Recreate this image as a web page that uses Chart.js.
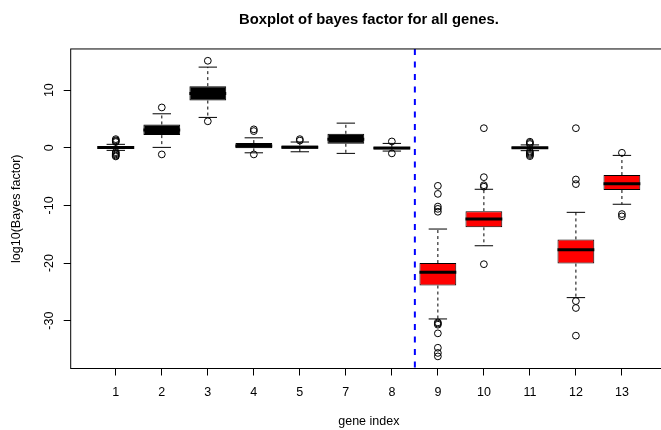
<!DOCTYPE html>
<html>
<head>
<meta charset="utf-8">
<script src="https://cdn.jsdelivr.net/npm/chart.js@4.4.1/dist/chart.umd.min.js"></script>
<style>
  html, body { margin: 0; padding: 0; background: #fff; overflow: hidden; }
  #wrap { width: 700px; height: 430px; }
</style>
</head>
<body>
<div id="wrap"><canvas id="grafico" width="700" height="430"></canvas></div>
<script>
// gene index (gene 6 is not in the data)
const geneLabels = ['1', '2', '3', '4', '5', '7', '8', '9', '10', '11', '12', '13'];
const redGenes = ['9', '10', '12', '13'];

// five-number summaries, log10(Bayes factor)
const lowerWhisker = [-0.45, 0.07, 5.27, -0.87, -0.69, -0.97, -0.57, -29.7, -17.0, -0.5, -26.0, -9.8];
const q1 = [-0.2, 2.2, 8.2, -0.1, -0.17, 0.7, -0.3, -23.9, -13.8, -0.17, -20.1, -7.33];
const medians = [0.05, 3.1, 9.4, 0.3, 0.1, 1.5, -0.05, -21.6, -12.36, 0.0, -17.7, -6.24];
const q3 = [0.3, 4.05, 10.7, 0.81, 0.41, 2.43, 0.15, -20.0, -11.0, 0.17, -15.9, -4.73];
const upperWhisker = [0.6, 5.9, 14.0, 1.73, 1.0, 4.28, 0.76, -14.1, -7.2, 0.5, -11.2, -1.32];

const outliers = [
  [1.5, 1.3, 1.15, 1.0, -0.75, -0.95, -1.15, -1.35, -1.5],
  [7.0, -1.15],
  [15.1, 4.6],
  [3.2, 2.9, -1.15],
  [1.5, 1.25],
  [],
  [1.1, -0.97],
  [-6.6, -8.0, -10.2, -10.6, -11.1, -30.3, -30.5, -30.7, -32.2, -34.7, -35.6, -36.2],
  [3.4, -5.1, -6.5, -6.75, -20.2],
  [1.05, 0.85, 0.65, -0.65, -0.85, -1.05, -1.25, -1.45],
  [3.4, -5.5, -6.3, -26.6, -27.8, -32.6],
  [-0.87, -11.5, -11.9]
];

const yTicks = [-30, -20, -10, 0, 10];
const divisoria = 7.5; // between gene 8 and gene 9

const posicoes = geneLabels.map((g, i) => i + 1);

const boxExtras = {
  id: 'boxExtras',
  beforeDatasetsDraw(chart) {
    const { ctx, scales: { x, y } } = chart;
    ctx.save();
    ctx.strokeStyle = '#000';
    ctx.lineWidth = 1;
    posicoes.forEach((p, i) => {
      const px = x.getPixelForValue(p);
      const c0 = x.getPixelForValue(p - 0.2);
      const c1 = x.getPixelForValue(p + 0.2);
      // whiskers (dashed)
      ctx.setLineDash([3, 3]);
      ctx.beginPath();
      ctx.moveTo(px, y.getPixelForValue(q3[i]));
      ctx.lineTo(px, y.getPixelForValue(upperWhisker[i]));
      ctx.moveTo(px, y.getPixelForValue(q1[i]));
      ctx.lineTo(px, y.getPixelForValue(lowerWhisker[i]));
      ctx.stroke();
      // caps
      ctx.setLineDash([]);
      ctx.beginPath();
      ctx.moveTo(c0, y.getPixelForValue(upperWhisker[i]));
      ctx.lineTo(c1, y.getPixelForValue(upperWhisker[i]));
      ctx.moveTo(c0, y.getPixelForValue(lowerWhisker[i]));
      ctx.lineTo(c1, y.getPixelForValue(lowerWhisker[i]));
      ctx.stroke();
    });
    ctx.restore();
  },
  afterDatasetDraw(chart, args) {
    if (args.meta.type !== 'bar') return;
    const { ctx, scales: { x, y } } = chart;
    ctx.save();
    ctx.strokeStyle = '#000';
    ctx.lineWidth = 3;
    posicoes.forEach((p, i) => {
      const py = y.getPixelForValue(medians[i]);
      ctx.beginPath();
      ctx.moveTo(x.getPixelForValue(p - 0.4), py);
      ctx.lineTo(x.getPixelForValue(p + 0.4), py);
      ctx.stroke();
    });
    ctx.restore();
  },
  afterDraw(chart) {
    const { ctx, chartArea: a, scales: { x } } = chart;
    ctx.save();
    // blue separator
    const bx = x.getPixelForValue(divisoria);
    ctx.strokeStyle = '#0000ff';
    ctx.lineWidth = 2;
    ctx.setLineDash([6, 6.5]);
    ctx.beginPath();
    ctx.moveTo(bx, a.top);
    ctx.lineTo(bx, a.bottom);
    ctx.stroke();
    // frame
    ctx.setLineDash([]);
    ctx.strokeStyle = '#000';
    ctx.lineWidth = 1;
    ctx.strokeRect(a.left, a.top, a.right - a.left, a.bottom - a.top);
    ctx.restore();
  }
};

Chart.defaults.font.family = '"Liberation Sans", Arial, Helvetica, sans-serif';
Chart.defaults.color = '#000';

const dadosOutliers = [];
outliers.forEach((lista, i) => lista.forEach(v => dadosOutliers.push({ x: i + 1, y: v })));

new Chart(document.getElementById('grafico'), {
  type: 'bar',
  data: {
    datasets: [
      {
        type: 'scatter',
        data: dadosOutliers,
        pointStyle: 'circle',
        pointRadius: 3.4,
        pointBorderWidth: 1,
        pointBackgroundColor: 'rgba(0,0,0,0)',
        pointBorderColor: '#000'
      },
      {
        type: 'bar',
        data: posicoes.map((p, i) => ({ x: p, y: [q1[i], q3[i]] })),
        backgroundColor: geneLabels.map(g => redGenes.includes(g) ? '#ff0000' : '#000000'),
        borderColor: '#000',
        borderWidth: 1,
        borderSkipped: false,
        barPercentage: 1,
        categoryPercentage: 0.8
      }
    ]
  },
  options: {
    responsive: false,
    animation: false,
    events: [],
    layout: { padding: { left: 0, right: 33, top: 0, bottom: 0 } },
    plugins: {
      legend: { display: false },
      tooltip: { enabled: false },
      title: {
        display: true,
        text: 'Boxplot of bayes factor for all genes.',
        fullSize: false,
        font: { size: 14.8, weight: 'bold' },
        padding: { top: 11, bottom: 20.2 }
      }
    },
    scales: {
      x: {
        type: 'linear',
        min: 0.02,
        max: 12.98,
        offset: false,
        afterBuildTicks: s => { s.ticks = posicoes.map(p => ({ value: p })); },
        afterFit: s => { s.height = 61.5; },
        ticks: {
          autoSkip: false,
          maxRotation: 0,
          padding: 10,
          font: { size: 12.5 },
          callback: v => geneLabels[v - 1]
        },
        grid: { offset: false, drawOnChartArea: false, tickLength: 7, tickColor: '#000' },
        border: { display: false },
        title: { display: true, text: 'gene index', font: { size: 12.5 }, padding: { top: 0, bottom: 1 } }
      },
      y: {
        min: -38.3,
        max: 17.15,
        afterBuildTicks: s => { s.ticks = yTicks.map(v => ({ value: v })); },
        afterFit: s => { s.width = 70.7; },
        ticks: {
          minRotation: 90,
          maxRotation: 90,
          crossAlign: 'center',
          padding: 5,
          font: { size: 12.5 }
        },
        grid: { drawOnChartArea: false, tickLength: 7, tickColor: '#000' },
        border: { display: false },
        title: { display: true, text: 'log10(Bayes factor)', font: { size: 12.5 }, padding: { top: 9, bottom: 0 } }
      }
    }
  },
  plugins: [boxExtras]
});
</script>
</body>
</html>
